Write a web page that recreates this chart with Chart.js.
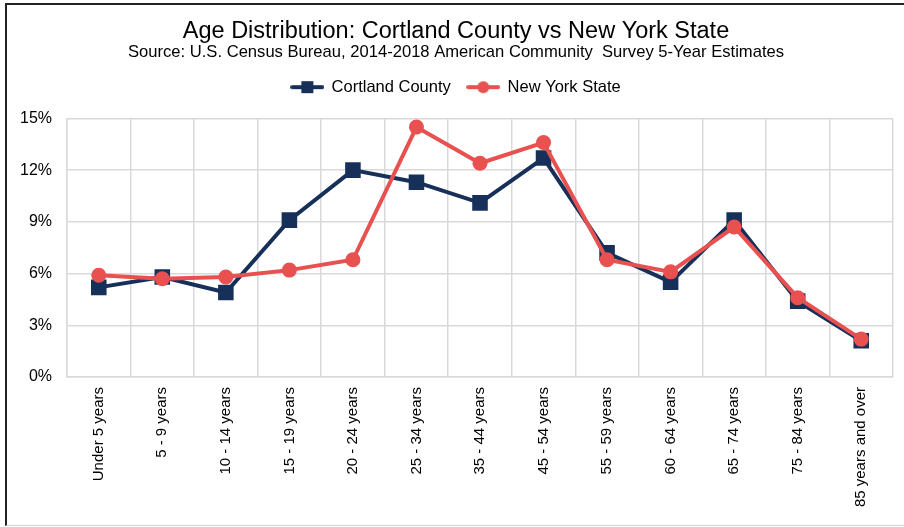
<!DOCTYPE html>
<html>
<head>
<meta charset="utf-8">
<script src="https://cdn.jsdelivr.net/npm/chart.js@4.4.1/dist/chart.umd.min.js"></script>
<style>
  html, body { margin: 0; padding: 0; background: #fff; }
  #wrap { position: relative; width: 904px; height: 527px; }
  #frame {
    position: absolute; left: 5px; top: 3px; width: 905px; height: 520px;
    border-top: 2px solid #222; border-left: 2px solid #222; border-bottom: 1px solid #d4d4d4;
    pointer-events: none;
  }
</style>
</head>
<body>
<div id="wrap">
  <canvas id="chart" width="904" height="527"></canvas>
  <div id="frame"></div>
</div>
<script>
// Categorias del eje X (grupos de edad)
const ageGroups = [
  "Under 5 years", "5 - 9 years", "10 - 14 years", "15 - 19 years", "20 - 24 years",
  "25 - 34 years", "35 - 44 years", "45 - 54 years", "55 - 59 years", "60 - 64 years",
  "65 - 74 years", "75 - 84 years", "85 years and over"
];

// Porcentajes
const cortlandValues = [5.2, 5.8, 4.9, 9.1, 12.0, 11.3, 10.1, 12.7, 7.2, 5.5, 9.1, 4.4, 2.1];
const nyStateValues  = [5.9, 5.7, 5.8, 6.2, 6.8, 14.5, 12.4, 13.6, 6.8, 6.1, 8.7, 4.6, 2.2];

// Marcas del eje Y
const yTicks = [0, 3, 6, 9, 12, 15];

const NAVY = "#17305a";
const RED = "#e8514f";
const FONT = "'Liberation Sans', Arial, sans-serif";

// Icono de leyenda estilo Excel: linea con marcador al centro
function legendIcon(color, shape) {
  const c = document.createElement('canvas');
  c.width = 34; c.height = 16;
  const g = c.getContext('2d');
  g.strokeStyle = color;
  g.lineWidth = 4;
  g.lineCap = 'round';
  g.beginPath(); g.moveTo(2, 8); g.lineTo(32, 8); g.stroke();
  g.fillStyle = color;
  if (shape === 'rect') {
    g.fillRect(11, 2, 12, 12);
  } else {
    g.beginPath(); g.arc(17, 8, 6, 0, Math.PI * 2); g.fill();
  }
  return c;
}

const ctx = document.getElementById('chart').getContext('2d');

new Chart(ctx, {
  type: 'line',
  data: {
    labels: ageGroups,
    datasets: [
      {
        label: "Cortland County",
        data: cortlandValues,
        borderColor: NAVY,
        backgroundColor: NAVY,
        borderWidth: 4,
        pointStyle: 'rect',
        pointRadius: 11,
        pointBorderWidth: 0,
        tension: 0,
        order: 2
      },
      {
        label: "New York State",
        data: nyStateValues,
        borderColor: RED,
        backgroundColor: RED,
        borderWidth: 4,
        pointStyle: 'circle',
        pointRadius: 7.5,
        pointBorderWidth: 0,
        tension: 0,
        order: 1
      }
    ]
  },
  options: {
    responsive: false,
    animation: false,
    layout: { padding: { top: 4, left: 18, right: 10, bottom: 0 } },
    scales: {
      x: {
        offset: true,
        grid: { color: "#d9d9d9", lineWidth: 1.5, offset: true, drawTicks: false },
        border: { color: "#d9d9d9", width: 1.5 },
        ticks: {
          color: "#000",
          font: { family: FONT, size: 15 },
          minRotation: 90,
          maxRotation: 90,
          autoSkip: false,
          padding: 10
        },
        afterFit: (scale) => { scale.height = 150; }
      },
      // eje vacio arriba, solo deja espacio entre la leyenda y el grafico
      spacer: {
        type: 'category',
        position: 'top',
        grid: { display: false, drawTicks: false },
        border: { display: false },
        ticks: { display: false },
        afterFit: (scale) => { scale.height = 13; }
      },
      y: {
        min: 0,
        max: 15,
        afterBuildTicks: (scale) => { scale.ticks = yTicks.map(v => ({ value: v })); },
        grid: { color: "#d9d9d9", lineWidth: 1.5, drawTicks: false },
        border: { color: "#d9d9d9", width: 1.5 },
        ticks: {
          color: "#000",
          font: { family: FONT, size: 16 },
          padding: 15,
          callback: (v) => v + "%"
        },
        afterFit: (scale) => { scale.width = 49; }
      }
    },
    plugins: {
      title: {
        display: true,
        text: "Age Distribution: Cortland County vs New York State",
        color: "#000",
        font: { family: FONT, size: 23.5, weight: 'normal', lineHeight: 1 },
        padding: { top: 16, bottom: -1 }
      },
      subtitle: {
        display: true,
        text: "Source: U.S. Census Bureau, 2014-2018 American Community  Survey 5-Year Estimates",
        color: "#000",
        font: { family: FONT, size: 16.6, weight: 'normal' },
        padding: { top: 0, bottom: 0 }
      },
      legend: {
        display: true,
        position: 'top',
        labels: {
          color: "#000",
          font: { family: FONT, size: 16.5 },
          usePointStyle: true,
          pointStyleWidth: 32,
          padding: 16.5,
          sort: (a, b) => a.datasetIndex - b.datasetIndex,
          generateLabels: (chart) => chart.data.datasets.map((ds, i) => ({
            text: ds.label,
            fillStyle: ds.backgroundColor,
            strokeStyle: ds.borderColor,
            lineWidth: 0,
            pointStyle: legendIcon(ds.borderColor, ds.pointStyle),
            fontColor: "#000",
            hidden: false,
            datasetIndex: i
          }))
        }
      },
      tooltip: { enabled: false }
    }
  }
});
</script>
</body>
</html>
